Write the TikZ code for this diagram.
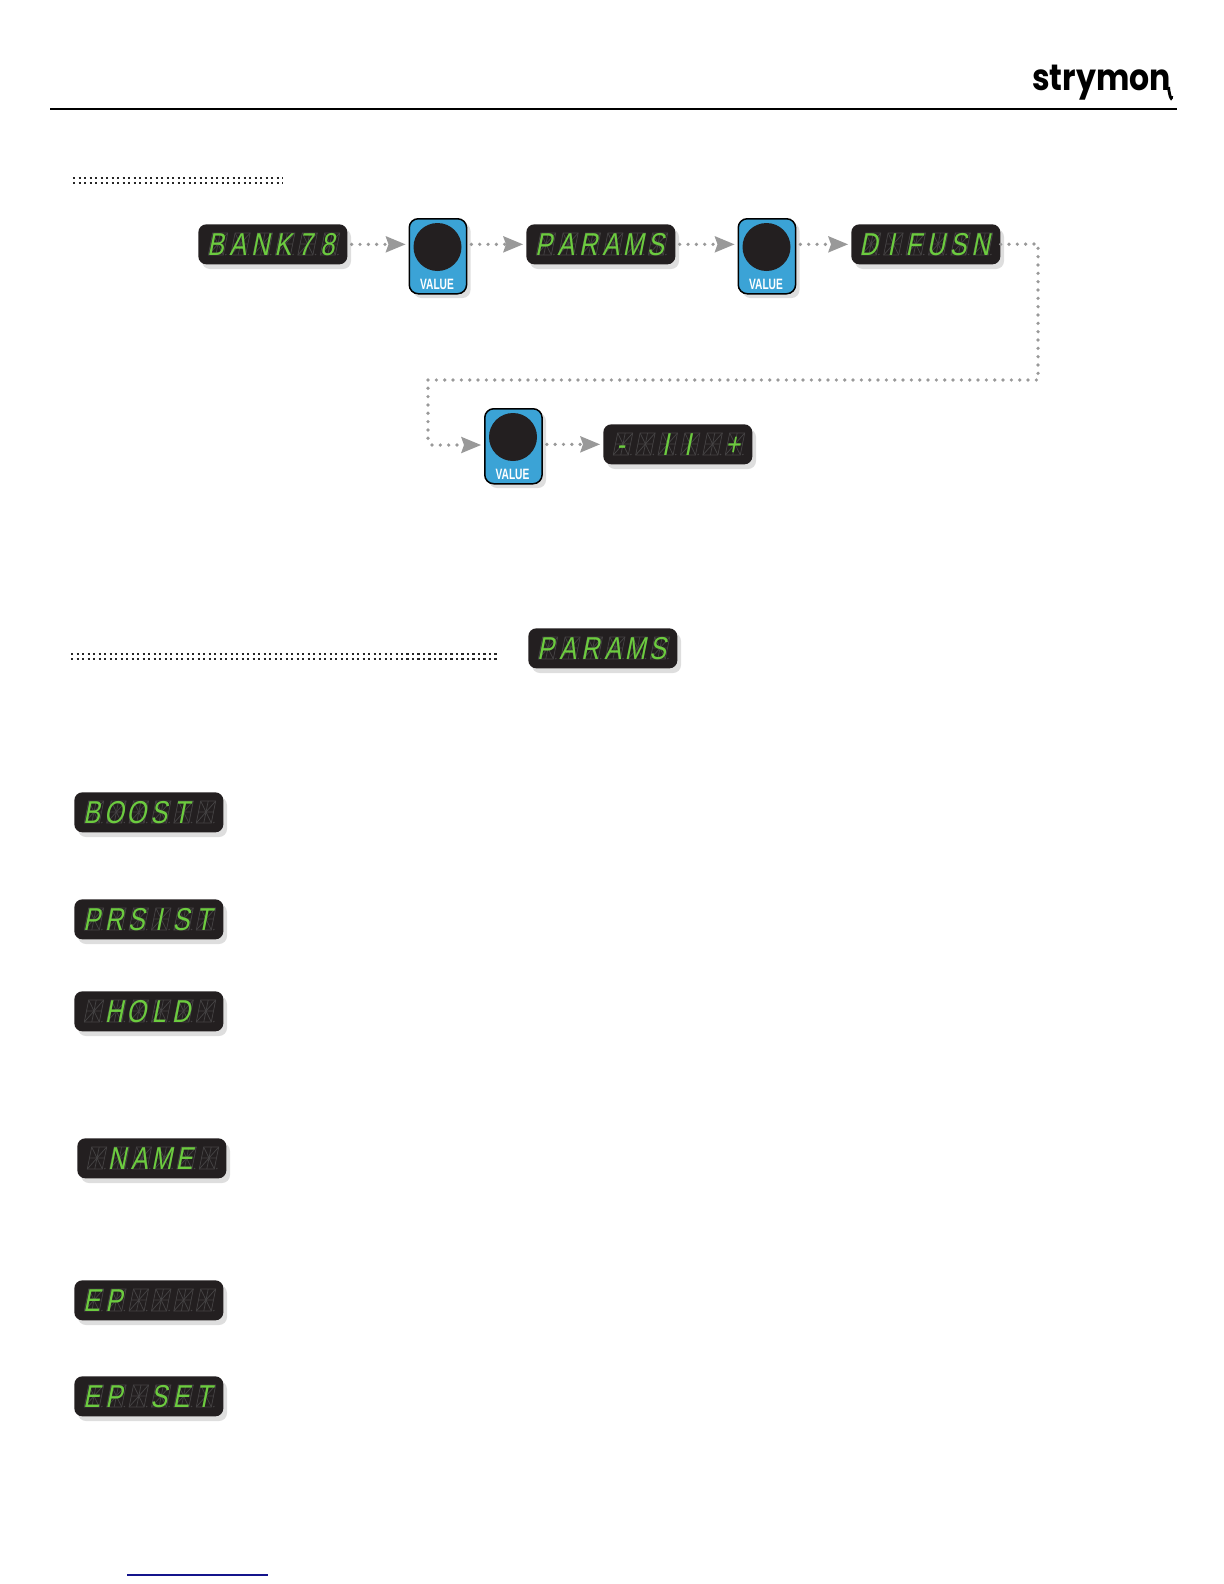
\documentclass[tikz,border=0pt]{standalone}
\usepackage{fontspec}
\usetikzlibrary{arrows.meta,calc}
\newfontfamily\segfont[FakeSlant=0.2,FakeStretch=0.8]{Liberation Sans}
\newfontfamily\valfont[FakeStretch=0.68]{Liberation Sans}
\newfontfamily\logofont[FakeStretch=0.86]{Poppins}
\definecolor{dispblack}{HTML}{231F20}
\definecolor{ghost}{HTML}{454344}
\definecolor{lit}{HTML}{6CCB3F}
\definecolor{shade}{HTML}{DEDEDE}
\definecolor{knobblue}{HTML}{3BA3D6}
\definecolor{arrowgrey}{HTML}{999999}
\definecolor{linkblue}{HTML}{14148C}
\tikzset{
  dispbox/.style={draw=none,fill=dispblack,rounded corners=4.8pt,minimum width=89.4pt,minimum height=24pt,inner sep=0pt,anchor=north west},
  dispshadow/.style={fill=shade,rounded corners=4.8pt},
  segchar/.style={text=lit,font=\segfont\fontsize{19}{19}\selectfont,inner sep=0pt,text height=13.2pt,text depth=0pt,anchor=center},
  knobbox/.style={draw=black,line width=0.9pt,fill=knobblue,rounded corners=5.4pt,minimum width=34.4pt,minimum height=45pt,inner sep=0pt,anchor=north west},
  knobcap/.style={circle,fill=dispblack,minimum size=28.8pt,inner sep=0pt},
  knoblabel/.style={text=white,font=\valfont\bfseries\fontsize{9}{9}\selectfont,inner sep=0pt},
  dotline/.style={draw=arrowgrey,line width=2.2pt,line cap=round,dash pattern=on 0pt off 5pt,shorten <=2.4pt,shorten >=1.8pt,
    -{Stealth[length=12pt,width=10pt,inset=1.8pt,fill=arrowgrey,line width=0pt,sep=0pt]}},
  dotplain/.style={draw=arrowgrey,line width=2.2pt,line cap=round,dash pattern=on 0pt off 5pt},
  ruledot/.style={draw=black!85,line width=1.3pt,dash pattern=on 1.3pt off 2pt}
}
% \disp{name}{left}{top}{six characters, n = blank}
\newcommand{\disp}[4]{%
  \fill[dispshadow] (#2+4,#3+5) rectangle +(149,40);
  \node[dispbox] (#1) at (#2,#3) {};
  \foreach \dch [count=\di from 0] in {#4} {%
    \pgfmathsetmacro{\cx}{#2+20+22.4*\di}
    \pgfmathsetmacro{\cy}{#3+20}
    \begin{scope}[shift={(\cx,\cy)},xslant=0.2,draw=ghost,line width=0.45pt]
      \draw (-7.5,-11) rectangle (7.5,11);
      \draw (-7.5,0) -- (7.5,0) (0,-11) -- (0,11);
      \draw (-7.5,-11) -- (7.5,11) (7.5,-11) -- (-7.5,11);
      \fill[ghost] (10,10.5) circle (0.8);
    \end{scope}
    \if n\dch\else
      \node[segchar] (#1-\di) at (\cx-2.5,\cy) {\dch};
    \fi
  }%
}
% \knob{name}{left}{top}
\newcommand{\knob}[3]{%
  \fill[dispshadow] (#2+5,#3+5) rectangle +(57,75);
  \node[knobbox] (#1) at (#2,#3) {};
  \node[knobcap] (#1-cap) at (#2+29,#3+29) {};
  \node[knoblabel] (#1-label) at (#2+28.5,#3+66) {VALUE};
}
\begin{document}
\begin{tikzpicture}[x=0.6pt,y=-0.6pt]
\useasboundingbox (0,0) rectangle (1224,1584);
% header
\draw[black,line width=1.2pt] (50,108.5) -- (1177,108.5);
\node[anchor=base west,inner sep=0pt,font=\logofont\bfseries\fontsize{22}{22}\selectfont,text=black] (logo) at (1032,90) {strymon};
\draw[black,line width=1.7pt] (logo.base east) ++(-2.6,-3) .. controls +(0,5) and +(0,7) .. +(3,9);
% section rules
\draw[ruledot] (73,178) -- (283,178);
\draw[ruledot] (73,183) -- (283,183);
\draw[ruledot] (71,654) -- (499,654);
\draw[ruledot] (71,659) -- (499,659);
% first row
\disp{bank}{198}{224}{B,A,N,K,7,8}
\knob{ka}{408.5}{218}
\disp{params}{526}{224}{P,A,R,A,M,S}
\knob{kb}{737.5}{218}
\disp{difusn}{851}{224}{D,I,F,U,S,N}
% second row
\knob{kc}{484}{408}
\disp{val}{603}{424}{-,n,I,I,n,+}
\coordinate (c1) at (1038,244);
\coordinate (c2) at (1038,380);
\coordinate (c3) at (428,380);
\coordinate (c4) at (428,445);
\draw[dotline] (bank.east) -- (bank.east -| ka.west);
\draw[dotline] (params.west -| ka.east) -- (params.west);
\draw[dotline] (params.east) -- (params.east -| kb.west);
\draw[dotline] (difusn.west -| kb.east) -- (difusn.west);
\draw[dotplain] (difusn.east) -- (c1) -- (c2) -- (c3) -- (c4);
\draw[dotline] (c4) -- (c4 -| kc.west);
\draw[dotline] (val.west -| kc.east) -- (val.west);
% parameter list
\disp{head}{528}{628}{P,A,R,A,M,S}
\disp{boost}{74}{792}{B,O,O,S,T,n}
\disp{prsist}{74}{899}{P,R,S,I,S,T}
\disp{hold}{74}{991}{n,H,O,L,D,n}
\disp{name}{77}{1138}{n,N,A,M,E,n}
\disp{ep}{74}{1280}{E,P,n,n,n,n}
\disp{epset}{74}{1376}{E,P,n,S,E,T}
% link underline
\draw[linkblue,line width=0.9pt] (127,1575) -- (268,1575);
\end{tikzpicture}
\end{document}
